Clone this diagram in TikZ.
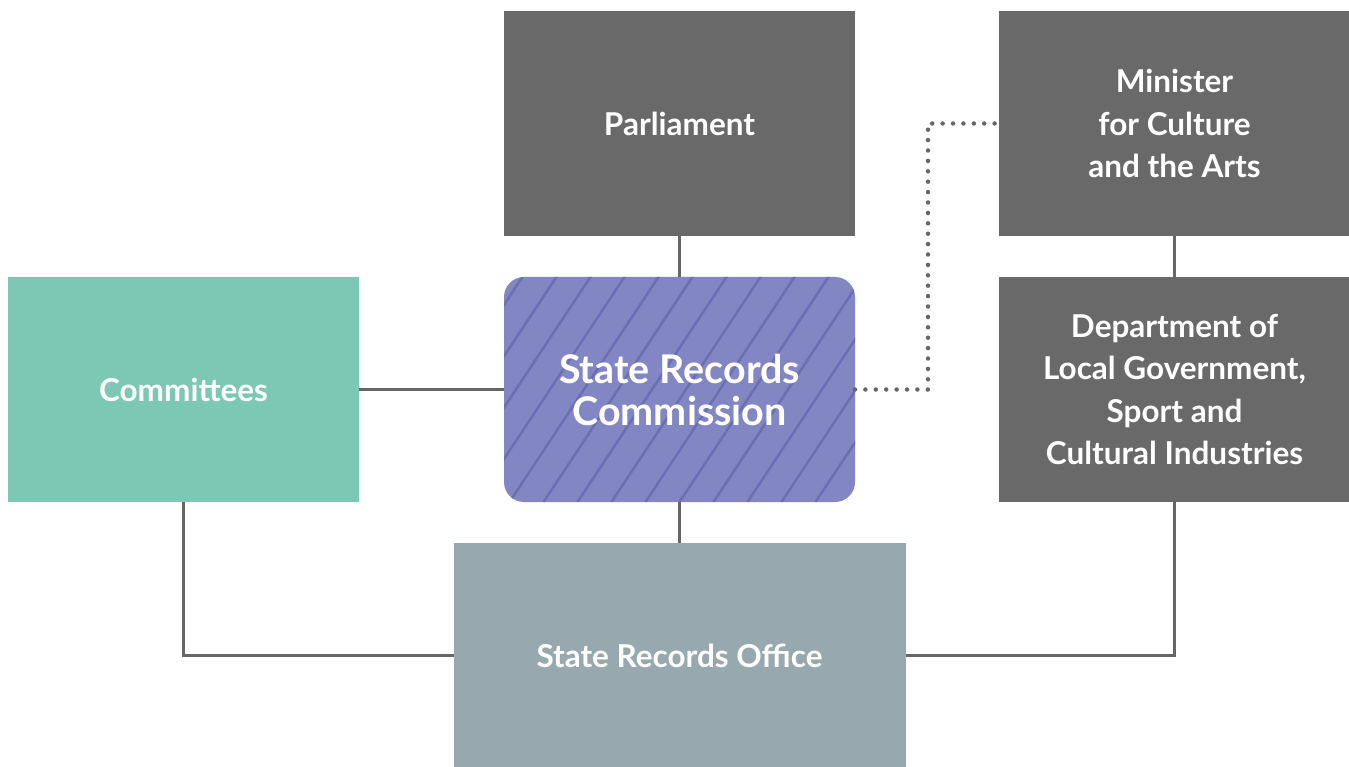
\documentclass[tikz,border=0pt]{standalone}
\usepackage{fontspec}
\setmainfont{Lato}
\usetikzlibrary{positioning,calc}
\definecolor{cBox}{RGB}{105,105,105}
\definecolor{cGreen}{RGB}{125,200,180}
\definecolor{cPurple}{RGB}{130,135,195}
\definecolor{cHatch}{RGB}{106,110,178}
\definecolor{cSlate}{RGB}{151,169,174}
\definecolor{cLine}{RGB}{102,102,102}
\tikzset{
  basebox/.style={rectangle,inner sep=0pt,outer sep=0pt,align=center,
                  text=white,font=\bfseries\fontsize{31.5}{42.5}\selectfont},
  graynode/.style={basebox,fill=cBox,minimum width=351pt,minimum height=225pt},
  greennode/.style={basebox,fill=cGreen,minimum width=351pt,minimum height=225pt},
  officenode/.style={basebox,fill=cSlate,minimum width=452pt,minimum height=225pt},
  commnode/.style={basebox,fill=cPurple,rounded corners=20pt,
                   minimum width=351pt,minimum height=225pt,
                   font=\bfseries\fontsize{39.5}{42}\selectfont,
                   path picture={
                     \foreach \k in {-10,...,7}
                       \draw[cHatch,line width=2.5pt]
                         ($(path picture bounding box.south)+(\k*34pt,0)$) -- ++(56.5:290pt);
                   }},
  link/.style={draw=cLine,line width=3pt},
  dotlink/.style={draw=cLine,line width=4.5pt,line cap=round,
                  dash pattern=on 0pt off 10.4pt}
}
\begin{document}
\begin{tikzpicture}
  \useasboundingbox (0pt,0pt) rectangle (1349pt,-767pt);

  % Top of the chain
  \node[graynode] (parl) at (679.5pt,-123.5pt) {Parliament};
  \node[commnode, below=41pt of parl] (src) {State Records\\Commission};
  \node[greennode, left=145pt of src] (comm) {Committees};
  \node[officenode, below=41pt of src] (sro) {State Records Office};

  % Ministerial side
  \node[graynode, right=144pt of src] (dept)
      {Department of\\Local Government,\\Sport and\\Cultural Industries};
  \node[graynode, above=41pt of dept] (minister)
      {Minister\\for Culture\\and the Arts};

  \draw[link] (parl) -- (src);
  \draw[link] (comm) -- (src);
  \draw[link] (src) -- (sro);
  \draw[link] (minister) -- (dept);
  \draw[link] (comm.south) |- (sro.west);
  \draw[link] (dept.south) |- (sro.east);
  \draw[dotlink] (src.east) -- ++(73pt,0) |- (minister.west);

\end{tikzpicture}
\end{document}
